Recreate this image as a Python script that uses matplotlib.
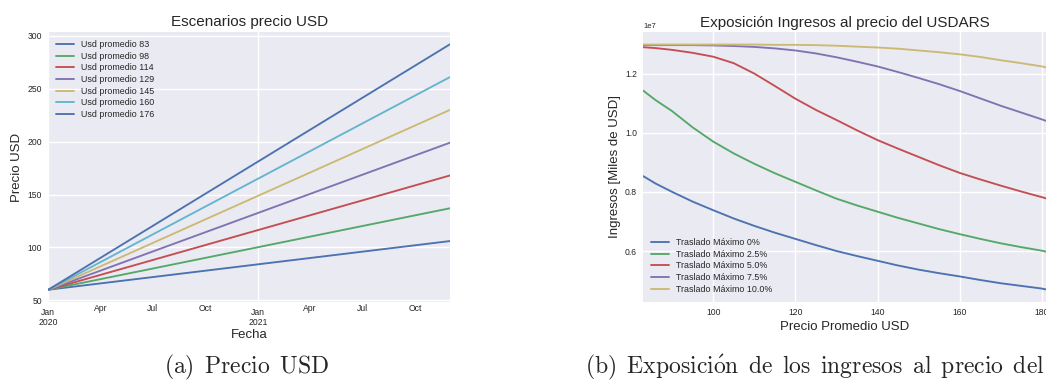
import matplotlib
matplotlib.use("Agg")
import matplotlib.pyplot as plt
import matplotlib.dates as mdates
import numpy as np
import pandas as pd

# Escenarios precio USD: rectas desde el precio inicial hasta el final
fecha_inicio = "2020-01-01"
fecha_fin = "2021-12-01"
precio_inicial = 60
usd_promedio = [83, 98, 114, 129, 145, 160, 176]
precio_final = [106, 137, 168, 199, 230, 261, 292]

# Exposicion de ingresos (en unidades de 1e7)
precio_promedio = [83, 86, 90, 95, 100, 105, 110, 115, 120, 125, 130, 135, 140, 145,
                   150, 155, 160, 165, 170, 175, 180, 181]
ingresos_0 = [0.853, 0.828, 0.800, 0.767, 0.738, 0.710, 0.685, 0.662, 0.641, 0.620,
              0.600, 0.583, 0.567, 0.551, 0.537, 0.525, 0.514, 0.502, 0.491, 0.482,
              0.473, 0.470]
ingresos_25 = [1.142, 1.110, 1.073, 1.018, 0.970, 0.930, 0.895, 0.863, 0.834, 0.805,
               0.777, 0.754, 0.733, 0.712, 0.693, 0.674, 0.657, 0.641, 0.626, 0.613,
               0.601, 0.598]
ingresos_50 = [1.289, 1.286, 1.280, 1.270, 1.257, 1.235, 1.200, 1.158, 1.115, 1.077,
               1.043, 1.008, 0.975, 0.946, 0.918, 0.890, 0.864, 0.842, 0.821, 0.801,
               0.782, 0.778]
ingresos_75 = [1.296, 1.296, 1.296, 1.296, 1.295, 1.293, 1.290, 1.285, 1.278, 1.268,
               1.255, 1.240, 1.224, 1.205, 1.185, 1.164, 1.141, 1.116, 1.091, 1.068,
               1.045, 1.040]
ingresos_100 = [1.298, 1.298, 1.298, 1.298, 1.298, 1.298, 1.298, 1.297, 1.297, 1.296,
                1.294, 1.291, 1.288, 1.284, 1.278, 1.272, 1.265, 1.256, 1.245, 1.235,
                1.224, 1.221]
traslados = ["0%", "2.5%", "5.0%", "7.5%", "10.0%"]

plt.style.use("seaborn-v0_8")
plt.rcParams["mathtext.fontset"] = "cm"

W, H = 1046, 380
fig = plt.figure(figsize=(W / 100, H / 100), dpi=100)

# --- (a) Precio USD ---
ax1 = fig.add_axes([48.3 / W, 1 - 302 / H, 401.7 / W, 270 / H])
fechas = pd.to_datetime([fecha_inicio, fecha_fin])
for prom, fin in zip(usd_promedio, precio_final):
    ax1.plot(fechas, [precio_inicial, fin], lw=1.35, label=f"Usd promedio {prom}")
ax1.set_xlim(fechas[0], fechas[1])
ax1.xaxis.set_major_locator(mdates.YearLocator())
ax1.xaxis.set_major_formatter(mdates.DateFormatter("%b\n%Y"))
ax1.xaxis.set_minor_locator(mdates.MonthLocator(bymonth=[4, 7, 10]))
ax1.xaxis.set_minor_formatter(mdates.DateFormatter("%b"))
ax1.tick_params(axis="x", which="major", pad=4.3, labelsize=6.2)
ax1.tick_params(axis="x", which="minor", pad=1.5, labelsize=6.2)
ax1.tick_params(axis="y", pad=4.5, labelsize=6.2)
ax1.set_title("Escenarios precio USD", fontsize=11, pad=4)
ax1.set_xlabel("Fecha", fontsize=9.5, labelpad=1)
ax1.set_ylabel("Precio USD", fontsize=9.5, labelpad=3)
ax1.legend(loc="upper left", fontsize=6.4, labelspacing=0.3)

# --- (b) Exposicion ingresos ---
ax2 = fig.add_axes([643.3 / W, 1 - 301.7 / H, 402.7 / W, 269.4 / H])
for serie, tr in zip([ingresos_0, ingresos_25, ingresos_50, ingresos_75, ingresos_100], traslados):
    ax2.plot(precio_promedio, np.array(serie) * 1e7, lw=1.35, label=f"Traslado Máximo {tr}")
ax2.set_xlim(precio_promedio[0], precio_promedio[-1])
ax2.tick_params(axis="x", pad=4.3, labelsize=6.2)
ax2.tick_params(axis="y", pad=4.5, labelsize=6.2)
ax2.yaxis.get_offset_text().set_fontsize(5.5)
ax2.set_title("Exposición Ingresos al precio del USDARS", fontsize=11, pad=4)
ax2.set_xlabel("Precio Promedio USD", fontsize=9.5, labelpad=3)
ax2.set_ylabel("Ingresos [Miles de USD]", fontsize=9.5, labelpad=3)
ax2.legend(loc="lower left", fontsize=6.4, labelspacing=0.3)

# captions
fig.text(246.5 / W, 7 / H, r"$\mathrm{(a)\ \,Precio\ \,USD}$", ha="center", va="baseline",
         fontsize=17)
fig.text(585 / W, 7 / H,
         r"$\mathrm{(b)\ \,Exposici\'{o}n\ \,de\ \,los\ \,ingresos\ \,al\ \,precio\ \,del}$",
         ha="left", va="baseline", fontsize=17)

fig.savefig("out.png", dpi=100)
